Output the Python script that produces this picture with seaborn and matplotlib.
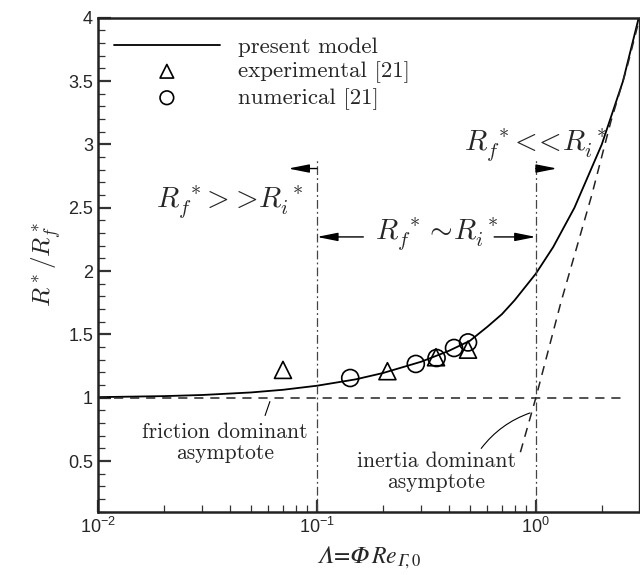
import matplotlib
matplotlib.use("Agg")
import matplotlib.pyplot as plt
import matplotlib.ticker as mticker
import seaborn as sns

# present model curve
lam_model = [0.01, 0.02, 0.03, 0.05, 0.07, 0.1, 0.15, 0.2, 0.3, 0.4, 0.5,
             0.6, 0.7, 0.8, 1.0, 1.2, 1.5, 2.0, 2.5, 2.95]
r_model = [1.005, 1.013, 1.022, 1.042, 1.063, 1.095, 1.145, 1.195, 1.285,
           1.37, 1.45, 1.56, 1.66, 1.77, 1.98, 2.19, 2.5, 3.0, 3.5, 4.0]

# experimental [21]
lam_exp = [0.07, 0.21, 0.35, 0.49]
r_exp = [1.22, 1.21, 1.32, 1.38]

# numerical [21]
lam_num = [0.142, 0.283, 0.352, 0.423, 0.49]
r_num = [1.156, 1.267, 1.314, 1.393, 1.437]

# asymptotes
lam_fric = [0.01, 2.5]
r_fric = [1.0, 1.0]
lam_iner = [0.85, 1.0, 1.3, 1.8, 2.2, 2.6, 2.95]
r_iner = [0.57, 1.0, 1.75, 2.6, 3.18, 3.6, 3.97]

# regime boundaries
regime_bounds = [0.1, 1.0]
bound_top = 2.89

sns.set_style("ticks")
plt.rcParams["font.family"] = ["Liberation Sans", "DejaVu Sans"]
plt.rcParams["mathtext.fontset"] = "cm"

fig = plt.figure(figsize=(6.4, 5.75), dpi=100)
ax = fig.add_axes([0.153, 0.11, 0.845, 0.859])

sns.lineplot(x=lam_model, y=r_model, ax=ax, color="black", lw=1.3,
             sort=False, estimator=None, label="present model")
sns.scatterplot(x=lam_exp, y=r_exp, ax=ax, marker="^", s=150,
                facecolor="none", edgecolor="black", linewidth=1.2,
                label="experimental [21]")
sns.scatterplot(x=lam_num, y=r_num, ax=ax, marker="o", s=150,
                facecolor="none", edgecolor="black", linewidth=1.2,
                label="numerical [21]")

ax.plot(lam_fric, r_fric, color="#222222", lw=1.1, dashes=(6, 4.5))
ax.plot(lam_iner, r_iner, color="#222222", lw=1.1, dashes=(6, 4.5))
ax.vlines(regime_bounds, 0.1, bound_top, color="#444444", lw=0.9,
          linestyles=[(0, (7, 2.5, 1.5, 2.5))])

ax.set_xscale("log")
ax.set_xlim(0.01, 2.95)
ax.set_ylim(0.1, 4)

# arrows and regime labels
arr = dict(arrowstyle="-|>,head_length=0.9,head_width=0.18", color="black",
           lw=1.0, mutation_scale=14, shrinkA=0, shrinkB=0)
ax.annotate("", xy=(0.074, 2.81), xytext=(0.1, 2.81), arrowprops=arr)
ax.annotate("", xy=(1.25, 2.81), xytext=(1.0, 2.81), arrowprops=arr)
ax.annotate("", xy=(0.1, 2.27), xytext=(0.163, 2.27), arrowprops=arr)
ax.annotate("", xy=(1.0, 2.27), xytext=(0.645, 2.27), arrowprops=arr)

ax.text(0.040, 2.54, r"$R_f^{\;*}\!>\!>\!R_i^{\;*}$", fontsize=21,
        ha="center", va="center")
ax.text(0.352, 2.29, r"$R_f^{\;*}\boldsymbol{\sim}\!R_i^{\;*}$", fontsize=21,
        ha="center", va="center")
ax.text(1.0, 2.99, r"$R_f^{\;*}\!<\!\!<\!R_i^{\;*}$", fontsize=21,
        ha="center", va="center")

ax.text(0.038, 0.645, "friction dominant\nasymptote", family="cmr10",
        fontsize=15.5, ha="center", va="center", linespacing=1.05)
ax.text(0.35, 0.415, "inertia dominant\nasymptote", family="cmr10",
        fontsize=15.5, ha="center", va="center", linespacing=1.05)
ax.annotate("", xy=(0.061, 0.97), xytext=(0.058, 0.86),
            arrowprops=dict(arrowstyle="-", lw=0.8, color="black",
                            shrinkA=0, shrinkB=0))
ax.annotate("", xy=(0.94, 0.88), xytext=(0.563, 0.6),
            arrowprops=dict(arrowstyle="-", lw=0.8, color="black",
                            shrinkA=0, shrinkB=0,
                            connectionstyle="arc3,rad=-0.15"))

# italic capital Greek via unicode math-italic letters
xl = ax.set_xlabel("$\U0001D6EC\\!=\\!\U0001D6F7\\,Re_{\U0001D6E4\\!,0}$",
                   fontsize=17, labelpad=6)
xl.set_math_fontfamily("stix")
ax.set_ylabel(r"$R^*/R_f^*$", fontsize=18, labelpad=4)

ax.yaxis.set_major_locator(mticker.MultipleLocator(0.5))
ax.yaxis.set_minor_locator(mticker.MultipleLocator(0.1))
ax.yaxis.set_major_formatter(mticker.FuncFormatter(lambda v, p: f"{v:g}"))
ax.xaxis.set_minor_locator(mticker.LogLocator(subs=range(2, 10)))
ax.tick_params(which="both", direction="in", top=False, right=False,
               labelsize=13, color="#333333")
ax.tick_params(which="major", length=9, width=1.6)
ax.tick_params(which="minor", length=5, width=0.9)
for s in ax.spines.values():
    s.set_linewidth(1.8)
    s.set_color("#222222")
ax.spines["right"].set_linewidth(1.0)

leg = ax.legend(loc="upper left", bbox_to_anchor=(0.03, 0.962),
                frameon=False, prop={"family": "cmr10", "size": 16.5},
                handlelength=4.6, handletextpad=0.8, labelspacing=0.2,
                borderpad=0, borderaxespad=0, markerscale=0.8)

fig.savefig("out.png", dpi=100)
